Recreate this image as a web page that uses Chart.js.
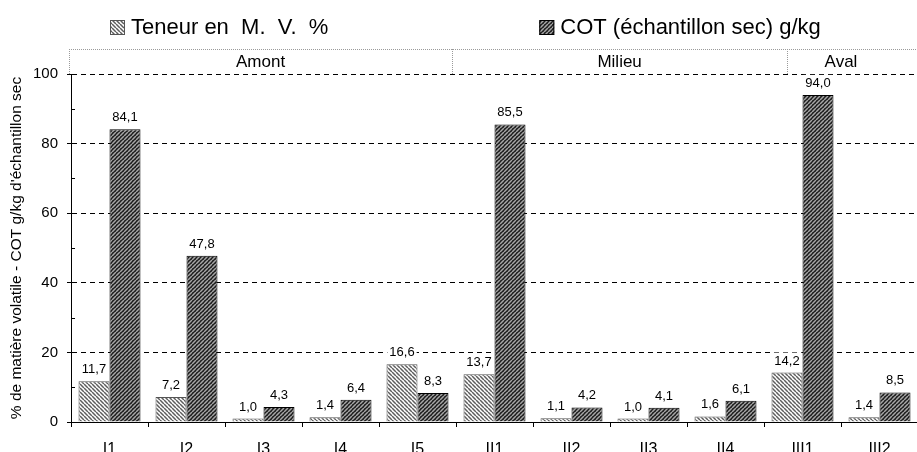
<!DOCTYPE html>
<html>
<head>
<meta charset="utf-8">
<script src="https://cdn.jsdelivr.net/npm/chart.js@4"></script>
<style>
  html, body { margin: 0; padding: 0; overflow: hidden; background: #fff; }
  canvas { display: block; }
</style>
</head>
<body>
<canvas id="chart" width="918" height="460"></canvas>
<script>
const FONT = "'Liberation Sans', Arial, sans-serif";

// Data
const categories = ["I1", "I2", "I3", "I4", "I5", "II1", "II2", "II3", "II4", "III1", "III2"];
const mvValues = [11.7, 7.2, 1.0, 1.4, 16.6, 13.7, 1.1, 1.0, 1.6, 14.2, 1.4];
const cotValues = [84.1, 47.8, 4.3, 6.4, 8.3, 85.5, 4.2, 4.1, 6.1, 94.0, 8.5];
const seriesNames = ["Teneur en  M.  V.  %", "COT (échantillon sec) g/kg"];
const yTicks = [0, 20, 40, 60, 80, 100];
const minorTicks = [10, 30, 50, 70, 90];
// zones on top of the plot (edges in category index units)
const groupNames = ["Amont", "Milieu", "Aval"];
const groupEdges = [-0.5, 4.45, 8.8, 10.2];

function makePattern(bg, fg, dir, lw) {
    const s = 4;
    const c = document.createElement("canvas");
    c.width = s; c.height = s;
    const g = c.getContext("2d");
    g.fillStyle = bg;
    g.fillRect(0, 0, s, s);
    g.strokeStyle = fg;
    g.lineWidth = lw;
    g.beginPath();
    for (let k = -1; k <= 1; k++) {
        if (dir === "\\") {
            g.moveTo(k * s, 0);
            g.lineTo(k * s + s, s);
        } else {
            g.moveTo(k * s, s);
            g.lineTo(k * s + s, 0);
        }
    }
    g.stroke();
    return g.createPattern(c, "repeat");
}

const ctx = document.getElementById("chart").getContext("2d");
const lightPattern = makePattern("#ffffff", "#5e5e5e", "\\", 1.5);
const darkPattern = makePattern("#1c1c1c", "#a6a6a6", "/", 1.5);

function fmt(v) {
    return v.toFixed(1).replace(".", ",");
}

// legend drawn by hand: two items spread across the top
const topLegend = {
    id: "topLegend",
    afterDraw(chart) {
        const c = chart.ctx;
        const gap = 211;
        const box = 15;
        c.save();
        c.font = "22px " + FONT;
        const items = chart.data.datasets.map(ds => ({
            ds: ds,
            w: box + 6 + c.measureText(ds.label).width
        }));
        const total = items[0].w + gap + items[1].w;
        let x = Math.round(chart.width / 2 - total / 2 + 6);
        const y = 27;
        items.forEach(it => {
            c.fillStyle = it.ds.backgroundColor;
            c.fillRect(x, y - 7, box, box);
            c.strokeStyle = it.ds.borderColor;
            c.lineWidth = 1;
            c.strokeRect(x + 0.5, y - 6.5, box - 1, box - 1);
            c.fillStyle = "#000";
            c.textBaseline = "middle";
            c.textAlign = "left";
            c.fillText(it.ds.label, x + box + 6, y + 1);
            x += it.w + gap;
        });
        c.restore();
    }
};

// band with the zone names above the plot
const zoneBand = {
    id: "zoneBand",
    afterDraw(chart) {
        const c = chart.ctx;
        const xs = chart.scales.x;
        const area = chart.chartArea;
        const top = area.top - 25;
        const bottom = area.top;
        c.save();
        c.strokeStyle = "#9a9a9a";
        c.lineWidth = 1;
        c.setLineDash([1, 1]);
        c.beginPath();
        c.moveTo(area.left - 2, top + 0.5);
        c.lineTo(chart.width, top + 0.5);
        groupEdges.slice(0, -1).forEach((e, i) => {
            const px = i === 0 ? area.left - 2 : Math.round(xs.getPixelForValue(e));
            c.moveTo(px + 0.5, top);
            c.lineTo(px + 0.5, bottom);
        });
        c.stroke();
        c.setLineDash([]);
        c.fillStyle = "#000";
        c.font = "17px " + FONT;
        c.textAlign = "center";
        c.textBaseline = "middle";
        groupNames.forEach((name, i) => {
            const x1 = i === 0 ? area.left - 2 : xs.getPixelForValue(groupEdges[i]);
            const x2 = xs.getPixelForValue(groupEdges[i + 1]);
            c.fillText(name, (x1 + x2) / 2, (top + bottom) / 2 + 1);
        });
        c.restore();
    }
};

// minor ticks on the inner side of the value axis
const minorTickMarks = {
    id: "minorTickMarks",
    afterDraw(chart) {
        const c = chart.ctx;
        const ys = chart.scales.y;
        const x0 = chart.chartArea.left;
        c.save();
        c.strokeStyle = "#000";
        c.lineWidth = 1;
        c.beginPath();
        minorTicks.forEach(v => {
            const py = Math.round(ys.getPixelForValue(v)) + 0.5;
            c.moveTo(x0, py);
            c.lineTo(x0 + 4, py);
        });
        c.stroke();
        c.restore();
    }
};

// value labels above bars, on a white box
const valueLabels = {
    id: "valueLabels",
    afterDatasetsDraw(chart) {
        const c = chart.ctx;
        c.save();
        c.font = "13px " + FONT;
        c.textAlign = "center";
        c.textBaseline = "alphabetic";
        chart.data.datasets.forEach((ds, di) => {
            chart.getDatasetMeta(di).data.forEach((bar, i) => {
                const txt = fmt(ds.data[i]);
                const w = c.measureText(txt).width;
                const base = bar.y - 8;
                c.fillStyle = "#fff";
                c.fillRect(bar.x - w / 2 - 2, base - 12, w + 4, 16);
                c.fillStyle = "#000";
                c.fillText(txt, bar.x, base);
            });
        });
        c.restore();
    }
};

new Chart(ctx, {
    type: "bar",
    data: {
        labels: categories,
        datasets: [
            {
                label: seriesNames[0],
                data: mvValues,
                backgroundColor: lightPattern,
                borderColor: "#555",
                borderWidth: 1,
                barPercentage: 1,
                categoryPercentage: 0.805
            },
            {
                label: seriesNames[1],
                data: cotValues,
                backgroundColor: darkPattern,
                borderColor: "#000",
                borderWidth: 1,
                barPercentage: 1,
                categoryPercentage: 0.805
            }
        ]
    },
    options: {
        responsive: false,
        devicePixelRatio: 1,
        animation: false,
        layout: { padding: { top: 74, left: 0, right: 0, bottom: 0 } },
        plugins: {
            legend: { display: false },
            tooltip: { enabled: false }
        },
        scales: {
            x: {
                offset: true,
                afterFit: s => { s.height = 38; },
                grid: {
                    offset: true,
                    drawOnChartArea: false,
                    drawTicks: true,
                    tickLength: 5,
                    tickColor: "#000"
                },
                border: { color: "#000", width: 1 },
                ticks: {
                    color: "#000",
                    padding: 13,
                    font: { family: FONT, size: 16 }
                }
            },
            y: {
                min: 0,
                max: 100,
                afterFit: s => { s.width = 71; },
                afterBuildTicks: s => { s.ticks = yTicks.map(v => ({ value: v })); },
                grid: {
                    color: c => c.tick && c.tick.value === 0 ? "rgba(0,0,0,0)" : "#000",
                    tickColor: "#000",
                    tickLength: 4,
                    lineWidth: 1
                },
                border: { color: "#000", width: 1, dash: [5, 4] },
                ticks: {
                    color: "#000",
                    padding: 9,
                    font: { family: FONT, size: 15 }
                },
                title: {
                    display: true,
                    text: "% de matière volatile - COT g/kg d'échantillon sec",
                    color: "#000",
                    font: { family: FONT, size: 15.5 },
                    padding: { top: 7, bottom: 0 }
                }
            }
        }
    },
    plugins: [topLegend, zoneBand, minorTickMarks, valueLabels]
});
</script>
</body>
</html>
